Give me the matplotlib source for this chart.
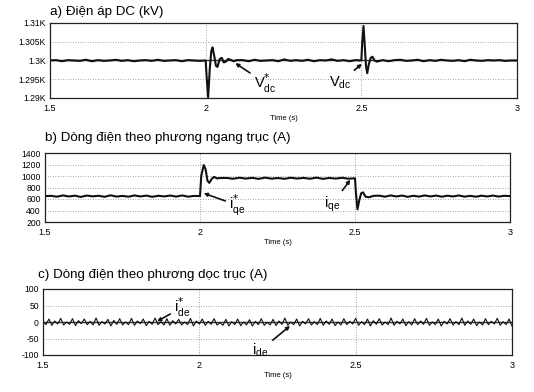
import numpy as np
import matplotlib
matplotlib.use("Agg")
import matplotlib.pyplot as plt

plt.rcParams['font.family'] = ['Liberation Sans', 'DejaVu Sans']

W, H = 534, 392

# ---------------- data ----------------
x_ticks = [1.5, 2.0, 2.5, 3.0]
x_ticklabels = ["1.5", "2", "2.5", "3"]

# Panel a : DC voltage (kV)
vdc_ref = 1.3
vdc_noise_pre = [0.0001, -0.0002, 0.0001, 0.0000, -0.0001, 0.0002, -0.0002, 0.0001, -0.0001, 0.0000,
                 0.0002, -0.0001, 0.0001, -0.0002, 0.0000, 0.0001, -0.0001, 0.0002, -0.0001, 0.0000,
                 0.0001, -0.0002, 0.0001, 0.0000, -0.0001]
vdc_tr1_t = [2.000, 2.003, 2.008, 2.013, 2.018, 2.022, 2.028, 2.033, 2.038, 2.045, 2.052, 2.058, 2.065,
             2.072, 2.080, 2.090, 2.100]
vdc_tr1_v = [1.3000, 1.2958, 1.2902, 1.2975, 1.3025, 1.3035, 1.3010, 1.2986, 1.2983, 1.3004, 1.3007,
             1.2995, 1.2997, 1.3004, 1.3002, 1.2998, 1.3001]
vdc_noise_mid = [0.0001, -0.0002, 0.0002, -0.0001, 0.0000, 0.0001, -0.0002, 0.0003, -0.0001, 0.0001,
                 -0.0001, 0.0002, -0.0002, 0.0001, 0.0000, 0.0003, -0.0001, 0.0001, -0.0002, 0.0001]
vdc_tr2_t = [2.500, 2.503, 2.507, 2.511, 2.515, 2.519, 2.524, 2.530, 2.536, 2.542, 2.550]
vdc_tr2_v = [1.3000, 1.3050, 1.3092, 1.3040, 1.2985, 1.2966, 1.2990, 1.3007, 1.3010, 1.3000, 1.2997]
vdc_noise_post = [0.0001, -0.0002, 0.0001, 0.0002, -0.0001, 0.0000, 0.0002, -0.0002, 0.0001, -0.0001,
                  0.0002, 0.0000, -0.0001, 0.0001, -0.0002, 0.0002, 0.0000, -0.0001, 0.0001, 0.0000,
                  0.0001, -0.0001, 0.0000]

# Panel b : quadrature current (A)
iq_low, iq_high = 650, 960
iq_noise_pre = [5, -10, 12, -6, 8, -14, 10, -4, 6, -12, 14, -8, 4, -10, 12, -6, 9, -12, 6, -5,
                10, -8, 12, -10, 4]
iq_tr1_t = [2.000, 2.004, 2.012, 2.018, 2.024, 2.030, 2.038, 2.045, 2.055, 2.065]
iq_tr1_v = [650, 1000, 1190, 1120, 920, 880, 950, 985, 958, 965]
iq_noise_mid = [6, -8, 10, -5, 8, -10, 12, -6, 5, -9, 10, -4, 7, -8, 12, -10, 6, -5, 9, -7]
iq_tr2_t = [2.500, 2.503, 2.508, 2.513, 2.520, 2.526, 2.534, 2.545, 2.560]
iq_tr2_v = [960, 700, 420, 560, 700, 715, 640, 630, 655]
iq_noise_post = [8, -10, 12, -6, 10, -12, 6, -8, 12, -5, 9, -10, 7, -6, 12, -9, 5, -10, 8, -6,
                 10, -8, 6]

# Panel c : direct current (A)
id_vals = [2, -8, 9, -10, 3, -6, 11, -9, 0, -7, 10, -11, 4, -5, 9, -8, 2, -9, 12, -10,
           1, -6, 8, -12, 5, -7, 10, -9, 0, -8, 11, -10, 3, -5, 9, -11, 2, -7, 12, -8,
           1, -9, 10, -10, 4, -6, 8, -9, 0, -8, 11, -12, 3, -6, 9, -10, 2, -7, 10, -9,
           -2, -10, 8, -12, 1, -8, 9, -11, 0, -9, 7, -12, 2, -8, 10, -10, -1, -9, 8, -11,
           3, -7, 12, -10, 0, -8, 9, -12, 2, -6, 10, -9, 1, -8, 11, -10, 3, -7, 9, -11,
           0, -9, 10, -8, 2, -6, 11, -10, 1, -8, 9, -12, 4, -7, 10, -9, 0, -8, 12, -10,
           2, -6, 9, -11, 1, -9, 10, -8, 3, -7, 11, -10, 0, -8, 9, -12, 2, -6, 10, -9,
           1, -8, 12, -10, 3, -7, 9, -11, 0, -9, 10, -8, 2, -6, 11, -10, 1, -8, 9, -12]

titles = ["a) Điện áp DC (kV)", "b) Dòng điện theo phương ngang trục (A)",
          "c) Dòng điện theo phương dọc trục (A)"]

# ---------------- build series ----------------
def seg(t0, t1, base, noise):
    t = np.linspace(t0, t1, len(noise) + 1, endpoint=False)[1:]
    return list(t), [base + n for n in noise]

t_a, v_a = [1.5], [vdc_ref]
tt, vv = seg(1.5, 2.0, vdc_ref, vdc_noise_pre); t_a += tt; v_a += vv
t_a += vdc_tr1_t; v_a += vdc_tr1_v
tt, vv = seg(2.1, 2.5, vdc_ref, vdc_noise_mid); t_a += tt; v_a += vv
t_a += vdc_tr2_t; v_a += vdc_tr2_v
tt, vv = seg(2.55, 3.0, vdc_ref, vdc_noise_post); t_a += tt; v_a += vv
t_a += [3.0]; v_a += [vdc_ref]

t_b, v_b = [1.5], [iq_low]
tt, vv = seg(1.5, 2.0, iq_low, iq_noise_pre); t_b += tt; v_b += vv
t_b += iq_tr1_t; v_b += iq_tr1_v
tt, vv = seg(2.065, 2.5, iq_high, iq_noise_mid); t_b += tt; v_b += vv
t_b += iq_tr2_t; v_b += iq_tr2_v
tt, vv = seg(2.56, 3.0, iq_low, iq_noise_post); t_b += tt; v_b += vv
t_b += [3.0]; v_b += [iq_low]

t_c = list(np.linspace(1.5, 3.0, len(id_vals)))
v_c = id_vals

# ---------------- figure ----------------
fig = plt.figure(figsize=(W / 100, H / 100), dpi=100)

def add_ax(l, r, top, bot):
    return fig.add_axes([l / W, 1 - bot / H, (r - l) / W, (bot - top) / H])

axA = add_ax(50, 517, 23, 98)
axB = add_ax(45, 510, 153, 222)
axC = add_ax(43, 512, 289, 355)

grid_kw = dict(color="#888888", linestyle=(0, (1, 2)), linewidth=0.6)

def style(ax, yt, ytl, ylim):
    ax.set_xlim(1.5, 3.0)
    ax.set_ylim(*ylim)
    ax.set_xticks(x_ticks)
    ax.set_xticklabels(x_ticklabels, fontsize=6.5)
    ax.set_yticks(yt)
    ax.set_yticklabels(ytl, fontsize=6.2)
    ax.tick_params(length=0, pad=3)
    ax.tick_params(axis='x', pad=4)
    for y in yt[1:-1]:
        ax.axhline(y, zorder=0, **grid_kw)
    for x in [2.0, 2.5]:
        ax.axvline(x, zorder=0, **grid_kw)
    for s in ax.spines.values():
        s.set_linewidth(0.9)
        s.set_color("#222222")
    ax.set_xlabel("Time (s)", fontsize=5.5, labelpad=2)

style(axA, [1.29, 1.295, 1.3, 1.305, 1.31], ["1.29K", "1.295K", "1.3K", "1.305K", "1.31K"], (1.29, 1.31))
style(axB, [200, 400, 600, 800, 1000, 1200, 1400], ["200", "400", "600", "800", "1000", "1200", "1400"], (200, 1400))
style(axC, [-100, -50, 0, 50, 100], ["-100", "-50", "0", "50", "100"], (-100, 100))

lw = 1.5
axA.plot([1.5, 3.0], [vdc_ref, vdc_ref], color="#333333", lw=1.0)
axA.plot(t_a, v_a, color="#111111", lw=lw)
axB.plot(t_b, v_b, color="#111111", lw=lw)
axC.plot([1.5, 3.0], [0, 0], color="#333333", lw=1.0)
axC.plot(t_c, v_c, color="#111111", lw=0.8)

fig.text(50 / W, 1 - 12 / H, titles[0], fontsize=9.6, va="center", ha="left")
fig.text(45 / W, 1 - 138 / H, titles[1], fontsize=9.6, va="center", ha="left")
fig.text(38 / W, 1 - 275 / H, titles[2], fontsize=9.6, va="center", ha="left")

ann_kw = dict(fontsize=10.5, ha="left", va="center",
              arrowprops=dict(arrowstyle="-|>", color="#111111", lw=1.2, mutation_scale=5,
                              shrinkA=1, shrinkB=0))

axA.annotate(r"V$_{\mathregular{dc}}^{*}$", xy=(2.095, 1.2993), xytext=(2.155, 1.2940), **ann_kw)
axA.annotate(r"V$_{\mathregular{dc}}$", xy=(2.502, 1.2991), xytext=(2.395, 1.2942), **ann_kw)
axB.annotate(r"i$_{\mathregular{qe}}^{*}$", xy=(2.012, 700), xytext=(2.095, 490), **ann_kw)
axB.annotate(r"i$_{\mathregular{qe}}$", xy=(2.485, 935), xytext=(2.400, 510), **ann_kw)
axC.annotate(r"i$_{\mathregular{de}}^{*}$", xy=(1.865, 2), xytext=(1.920, 45), **ann_kw)
axC.annotate(r"i$_{\mathregular{de}}$", xy=(2.29, -12), xytext=(2.170, -85), **ann_kw)

fig.savefig("out.png", dpi=100)
